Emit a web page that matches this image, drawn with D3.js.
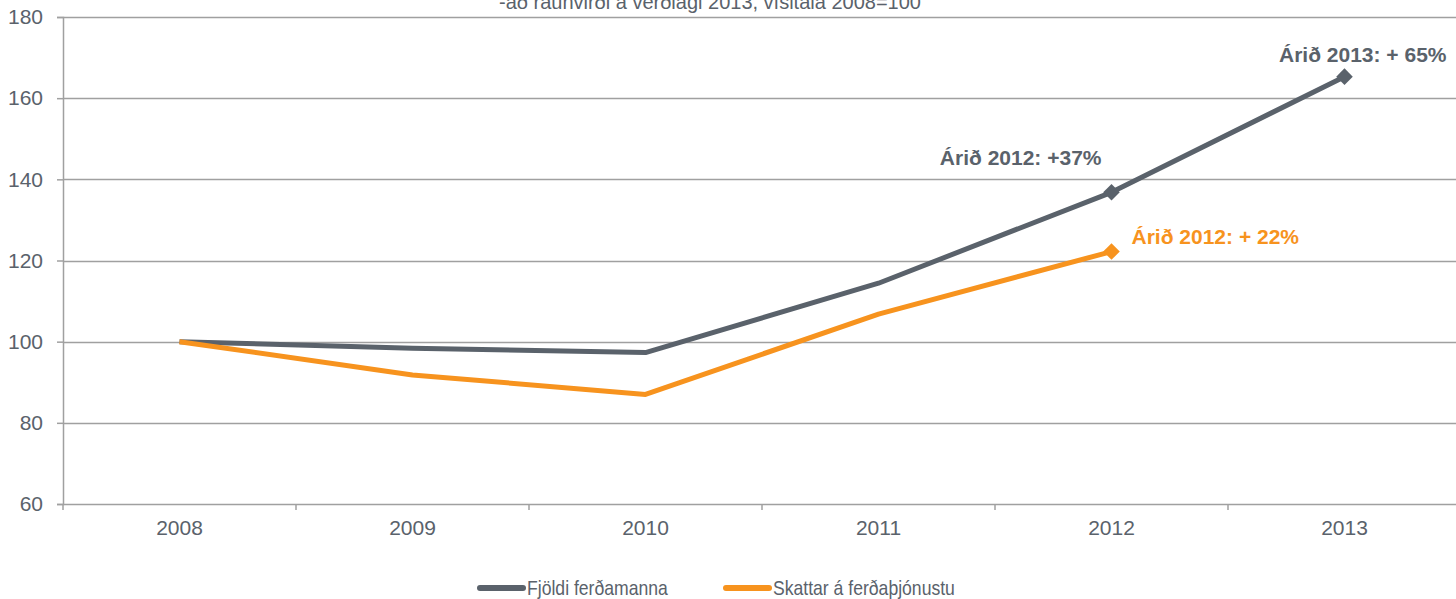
<!DOCTYPE html>
<html>
<head>
<meta charset="utf-8">
<script src="https://cdn.jsdelivr.net/npm/d3@7"></script>
<style>
  body { margin: 0; background: #fff; }
  svg { display: block; font-family: "Liberation Sans", Arial, sans-serif; }
</style>
</head>
<body>
<div id="graph"></div>
<script>
const width = 1456, height = 599;

// data
const years = ["2008", "2009", "2010", "2011", "2012", "2013"];
const fjoldi = [100, 98.4, 97.3, 114.4, 136.8, 165.3];
const skattar = [100, 91.8, 87.0, 106.8, 122.2];
const yTicks = [60, 80, 100, 120, 140, 160, 180];
const seriesNames = ["Fjöldi ferðamanna", "Skattar á ferðaþjónustu"];
const colors = ["#5a626b", "#f7931e"];
const subtitle = "-að raunvirði á verðlagi 2013, vísitala 2008=100";
const notes = [
  {series: 0, year: "2012", text: "Árið 2012: +37%", dx: -10, dy: -27},
  {series: 0, year: "2013", text: "Árið 2013: + 65%", dx: 102, dy: -15},
  {series: 1, year: "2012", text: "Árið 2012: + 22%", dx: 20, dy: -8, anchor: "start"}
];

const margin = {left: 63, top: 17, bottom: 95};
const x = d3.scaleBand().domain(years).range([margin.left, margin.left + 6 * 233]);
const y = d3.scaleLinear().domain([60, 180]).range([504, 17]);

const svg = d3.select("#graph")
  .append("svg")
  .attr("width", width)
  .attr("height", height);

const axisColor = "#a0a0a0";
const textColor = "#5a626b";

// subtitle (cut off at top, as in the original)
svg.append("text")
  .attr("x", 710)
  .attr("y", 9)
  .attr("text-anchor", "middle")
  .attr("fill", textColor)
  .style("font-size", "20px")
  .text(subtitle);

// gridlines
svg.append("g")
  .selectAll("line")
  .data(yTicks)
  .join("line")
    .attr("x1", margin.left)
    .attr("x2", width)
    .attr("y1", d => Math.round(y(d)) + 0.5)
    .attr("y2", d => Math.round(y(d)) + 0.5)
    .attr("stroke", axisColor)
    .attr("stroke-width", 1.5);

// y axis
const yAxis = svg.append("g")
  .attr("transform", `translate(${margin.left},0)`)
  .call(d3.axisLeft(y).tickValues(yTicks).tickSize(6).tickPadding(14));
yAxis.select(".domain").attr("stroke", axisColor).attr("stroke-width", 1.5);
yAxis.selectAll(".tick line").attr("stroke", axisColor).attr("stroke-width", 1.5);
yAxis.selectAll("text").attr("fill", textColor).style("font-size", "21px")
  .attr("font-family", "Liberation Sans, Arial, sans-serif");

// x axis
const xAxis = svg.append("g")
  .attr("transform", `translate(0,${y(60)})`)
  .call(d3.axisBottom(x).tickSize(0).tickPadding(16));
xAxis.select(".domain").remove();
xAxis.selectAll("text").attr("fill", textColor).style("font-size", "21px")
  .attr("font-family", "Liberation Sans, Arial, sans-serif");
svg.append("g")
  .selectAll("line")
  .data(d3.range(years.length + 1))
  .join("line")
    .attr("x1", i => margin.left + i * x.step())
    .attr("x2", i => margin.left + i * x.step())
    .attr("y1", y(60))
    .attr("y2", y(60) + 6)
    .attr("stroke", axisColor)
    .attr("stroke-width", 1.5);

const cx = yr => x(yr) + x.bandwidth() / 2;
const series = [fjoldi, skattar];

const line = d3.line()
  .x((d, i) => cx(years[i]))
  .y(d => y(d));

series.forEach((vals, s) => {
  svg.append("path")
    .datum(vals)
    .attr("fill", "none")
    .attr("stroke", colors[s])
    .attr("stroke-width", 5)
    .attr("stroke-linejoin", "round")
    .attr("d", line);
});

// diamond markers + labels on annotated points
const diamond = d3.symbol().type(d3.symbolDiamond2).size(175);
notes.forEach(n => {
  const v = series[n.series][years.indexOf(n.year)];
  svg.append("path")
    .attr("d", diamond)
    .attr("transform", `translate(${cx(n.year)},${y(v)})`)
    .attr("fill", colors[n.series]);
  svg.append("text")
    .attr("x", cx(n.year) + n.dx)
    .attr("y", y(v) + n.dy)
    .attr("text-anchor", n.anchor || "end")
    .attr("fill", colors[n.series])
    .style("font-size", "21px")
    .style("font-weight", "bold")
    .text(n.text);
});

// legend
const legendX = [480, 726];
const legend = svg.append("g")
  .selectAll("g")
  .data(seriesNames)
  .join("g")
    .attr("transform", (d, i) => `translate(${legendX[i]},588)`);
legend.append("line")
  .attr("x1", 0).attr("x2", 43)
  .attr("stroke", (d, i) => colors[i])
  .attr("stroke-width", 6)
  .attr("stroke-linecap", "round");
legend.append("text")
  .attr("transform", "translate(47,7) scale(0.88,1)")
  .attr("fill", textColor)
  .style("font-size", "20px")
  .text(d => d);
</script>
</body>
</html>
